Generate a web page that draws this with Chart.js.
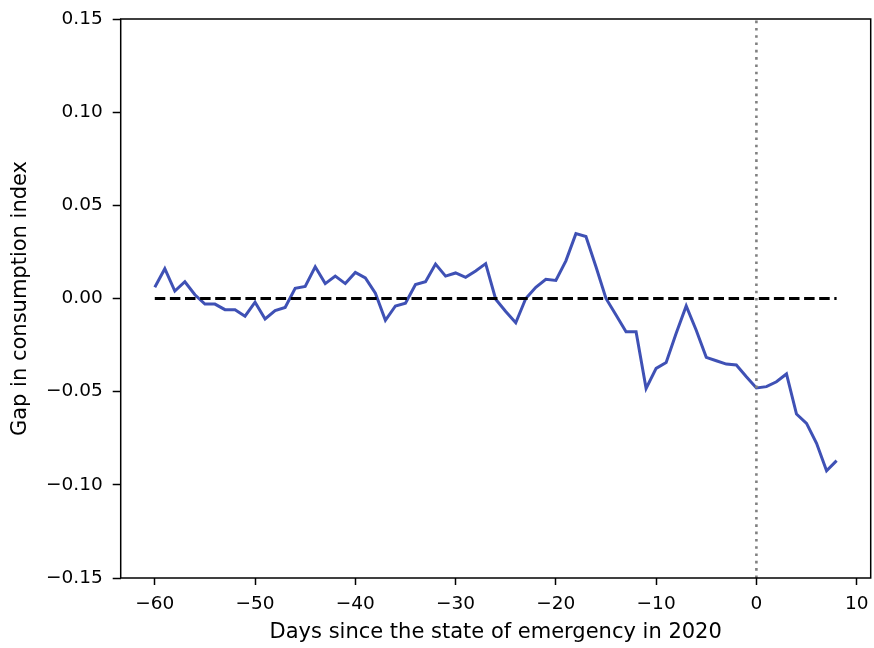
<!DOCTYPE html>
<html>
<head>
<meta charset="utf-8">
<script src="https://cdn.jsdelivr.net/npm/chart.js@4.4.1/dist/chart.umd.min.js"></script>
<style>
  html, body { margin: 0; padding: 0; background: #ffffff; }
  #wrap { width: 874px; height: 648px; }
</style>
</head>
<body>
<div id="wrap"><canvas id="c" width="874" height="648"></canvas></div>
<script>
// ---- data ----
const days = [-60,-59,-58,-57,-56,-55,-54,-53,-52,-51,-50,-49,-48,-47,-46,-45,-44,-43,-42,-41,
  -40,-39,-38,-37,-36,-35,-34,-33,-32,-31,-30,-29,-28,-27,-26,-25,-24,-23,-22,-21,
  -20,-19,-18,-17,-16,-15,-14,-13,-12,-11,-10,-9,-8,-7,-6,-5,-4,-3,-2,-1,
  0,1,2,3,4,5,6,7,8];
const gap = [0.006,0.016,0.004,0.009,0.002,-0.003,-0.003,-0.006,-0.006,-0.0095,-0.002,-0.011,-0.0065,-0.0048,0.0055,0.0065,0.017,0.008,0.012,0.008,
  0.014,0.011,0.0028,-0.0117,-0.004,-0.0025,0.0075,0.009,0.0185,0.012,0.0137,0.0114,0.0148,0.0187,-0.0004,-0.007,-0.013,0.0,0.006,0.0103,
  0.0097,0.0202,0.0348,0.0333,0.017,0.0,-0.0089,-0.0178,-0.0178,-0.0483,-0.0375,-0.0344,-0.0187,-0.004,-0.017,-0.0316,-0.0334,-0.0352,-0.0357,-0.042,
  -0.048,-0.0473,-0.0447,-0.0405,-0.062,-0.067,-0.0777,-0.0925,-0.087];
const zeroLineX = [-60, 8];
const zeroLineY = [0, 0];
const emergencyX = [0, 0];
const emergencyY = [-0.15, 0.15];
const xTicks = [-60, -50, -40, -30, -20, -10, 0, 10];
const yTicks = [-0.15, -0.10, -0.05, 0.00, 0.05, 0.10, 0.15];
const xTitle = 'Days since the state of emergency in 2020';
const yTitle = 'Gap in consumption index';

const toPts = (xs, ys) => xs.map((x, i) => ({ x: x, y: ys[i] }));
const fmtMinus = s => s.replace('-', '\u2212');

const frame = {
  id: 'frame',
  afterDatasetsDraw(chart) {
    const a = chart.chartArea, ctx = chart.ctx;
    ctx.save();
    ctx.strokeStyle = '#000';
    ctx.lineWidth = 1.5;
    ctx.strokeRect(a.left, a.top, a.right - a.left, a.bottom - a.top);
    ctx.restore();
  }
};

const tickFont = { family: 'DejaVu Sans', size: 18.5 };
const titleFont = { family: 'DejaVu Sans', size: 21 };

new Chart(document.getElementById('c'), {
  type: 'line',
  data: {
    datasets: [
      { data: toPts(days, gap), borderColor: '#3f51b5', borderWidth: 3, pointRadius: 0, tension: 0, order: 3 },
      { data: toPts(zeroLineX, zeroLineY), borderColor: '#000000', borderWidth: 2.9, borderDash: [10.5, 4.6], pointRadius: 0, order: 2 },
      { data: toPts(emergencyX, emergencyY), borderColor: '#808080', borderWidth: 2.6, borderDash: [2.6, 4.7], pointRadius: 0, order: 1 }
    ]
  },
  options: {
    responsive: false,
    animation: false,
    layout: { padding: { left: 0, top: 19, right: 3.3, bottom: 0 } },
    plugins: { legend: { display: false }, tooltip: { enabled: false } },
    scales: {
      x: {
        type: 'linear', min: -63.4, max: 11.4,
        afterBuildTicks: s => { s.ticks = xTicks.map(v => ({ value: v })); },
        afterFit: s => { s.height = 70; s.paddingLeft = 0; s.paddingRight = 0; },
        border: { display: false },
        grid: { drawOnChartArea: false, drawTicks: true, tickLength: 7, tickColor: '#000', tickWidth: 1.5 },
        ticks: { color: '#000', font: tickFont, padding: 8, maxRotation: 0, callback: v => fmtMinus(String(v)) },
        title: { display: true, text: xTitle, color: '#000', font: titleFont, padding: { top: 2, bottom: 2.5 } }
      },
      y: {
        type: 'linear', min: -0.15, max: 0.15,
        afterBuildTicks: s => { s.ticks = yTicks.map(v => ({ value: v })); },
        afterFit: s => { s.width = 120.7; s.paddingTop = 0; s.paddingBottom = 0; },
        border: { display: false },
        grid: { drawOnChartArea: false, drawTicks: true, tickLength: 8, tickColor: '#000', tickWidth: 1.5 },
        ticks: { color: '#000', font: tickFont, padding: 10, callback: v => fmtMinus(Number(v).toFixed(2)) },
        title: { display: true, text: yTitle, color: '#000', font: titleFont, padding: { top: 7.5, bottom: 4 } }
      }
    }
  },
  plugins: [frame]
});
</script>
</body>
</html>
